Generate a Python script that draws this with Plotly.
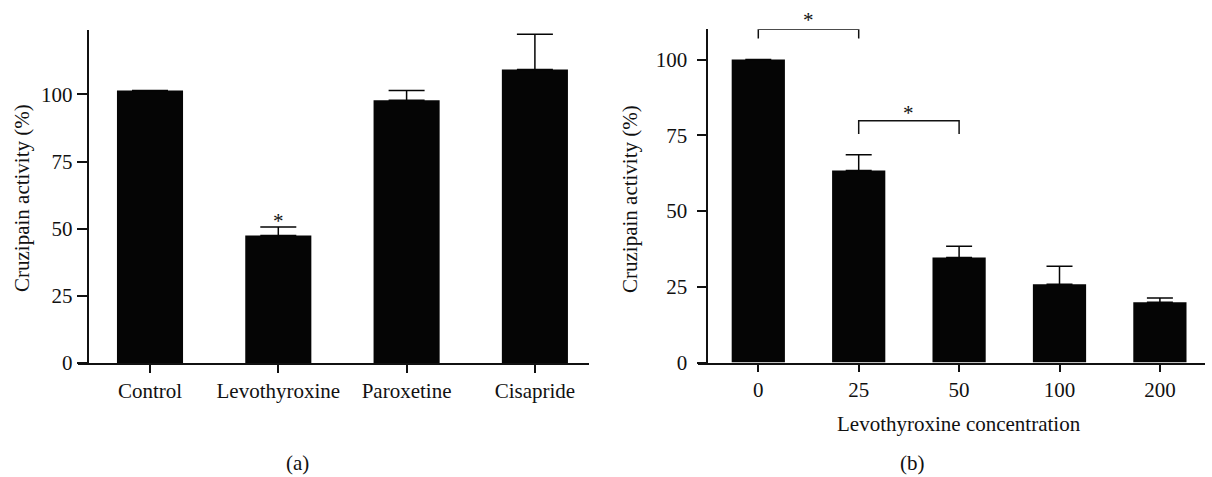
import plotly.graph_objects as go

W, H = 1212, 477

# Panel (a)
cats_a = ["Control", "Levothyroxine", "Paroxetine", "Cisapride"]
vals_a = [101.5, 47.5, 97.8, 109.3]
err_a = [0, 3.1, 3.7, 13.1]
star_cats_a = ["Levothyroxine"]
star_vals_a = [52.2]

# Panel (b)
cats_b = ["0", "25", "50", "100", "200"]
vals_b = [100, 63.4, 34.7, 25.8, 19.9]
err_b = [0, 5.2, 3.7, 6.0, 1.4]
# brackets: left category, right category, top value, end value, star value
br_left = ["0", "25"]
br_right = ["25", "50"]
br_top = [110.0, 79.8]
br_end = [107.0, 75.4]
br_star = [113.0, 82.4]

yticks = [0, 25, 50, 75, 100]
YMAX_A = 124
YMAX_B = 110

FONT = "Liberation Serif"
BLACK = "#050505"
INK = "#111111"


def px(x):
    return x / W


def py(y):
    return (H - y) / H


fig = go.Figure()

fig.add_trace(go.Bar(
    x=cats_a, y=vals_a, xaxis="x", yaxis="y", width=0.515,
    marker=dict(color=BLACK, line=dict(width=0)),
    error_y=dict(type="data", symmetric=False, array=err_a,
                 arrayminus=[0] * len(err_a), color=BLACK, thickness=1.5, width=18),
    showlegend=False, hoverinfo="x+y"))

idx_b = list(range(len(cats_b)))
fig.add_trace(go.Bar(
    x=idx_b, y=vals_b, xaxis="x2", yaxis="y2", width=0.53,
    marker=dict(color=BLACK, line=dict(width=0)),
    error_y=dict(type="data", symmetric=False, array=err_b,
                 arrayminus=[0] * len(err_b), color=BLACK, thickness=1.5, width=13),
    showlegend=False, hovertext=cats_b, hoverinfo="text+y"))

# significance stars (a)
fig.add_trace(go.Scatter(
    x=star_cats_a, y=star_vals_a, xaxis="x", yaxis="y", mode="text", text=["*"] * len(star_cats_a),
    textposition="middle center", textfont=dict(family=FONT, size=21, color=INK),
    cliponaxis=False, showlegend=False, hoverinfo="skip"))

# brackets (b)
for c0, c1, top, end in zip(br_left, br_right, br_top, br_end):
    i0, i1 = cats_b.index(c0), cats_b.index(c1)
    fig.add_trace(go.Scatter(
        x=[i0, i0, i1, i1], y=[end, top, top, end], xaxis="x2", yaxis="y2",
        mode="lines", line=dict(color=INK, width=1.5), cliponaxis=False,
        showlegend=False, hoverinfo="skip"))

# stars over brackets (b): placed on the y2 domain so they may sit above the axis top
for c0, c1, sv in zip(br_left, br_right, br_star):
    xm = (cats_b.index(c0) + cats_b.index(c1)) / 2
    fig.add_annotation(x=xm, y=sv / YMAX_B, xref="x2", yref="y2 domain", text="*",
                       showarrow=False, xanchor="center", yanchor="middle",
                       font=dict(family=FONT, size=21, color=INK))

axis_common = dict(showline=True, linecolor=INK, linewidth=1.5, ticks="outside",
                   tickcolor=INK, tickwidth=1.5, showgrid=False, zeroline=False,
                   automargin=False,
                   tickfont=dict(family=FONT, size=21, color=INK))

# x axis lines and category spacing
xa0 = 78; xa1 = 589; sp_a = 128.3
r0a = -(150 - xa0) / sp_a
r1a = r0a + (xa1 - xa0) / sp_a
xb0 = 698; xb1 = 1205; sp_b = 100.4
r0b = -(758.3 - xb0) / sp_b
r1b = r0b + (xb1 - xb0) / sp_b

fig.update_layout(
    template="none",
    width=W, height=H, margin=dict(l=0, r=0, t=0, b=0, pad=0, autoexpand=False),
    paper_bgcolor="white", plot_bgcolor="white",
    font=dict(family=FONT, size=21, color=INK),
    showlegend=False,
    xaxis=dict(domain=[px(xa0), px(xa1)], anchor="y", range=[r0a, r1a],
               ticklen=8, type="category", **axis_common),
    yaxis=dict(domain=[py(363), py(30)], anchor="free", position=px(87.5),
               range=[0, YMAX_A], tickvals=yticks, ticklen=10, **axis_common),
    xaxis2=dict(domain=[px(xb0), px(xb1)], anchor="y2", range=[r0b, r1b],
                ticklen=8, type="linear", tickvals=idx_b, ticktext=cats_b,
                **axis_common),
    yaxis2=dict(domain=[py(362.5), py(29.3)], anchor="free", position=px(707.3),
                range=[0, YMAX_B], tickvals=yticks, ticklen=10, ticklabelstandoff=5,
                **axis_common),
)

# axis titles and panel labels
title_font = dict(family=FONT, size=21, color=INK)
fig.add_annotation(x=px(22), y=py(198), xref="paper", yref="paper",
                   text="Cruzipain activity (%)", textangle=-90, showarrow=False,
                   xanchor="center", yanchor="middle", font=title_font)
fig.add_annotation(x=px(630), y=py(199), xref="paper", yref="paper",
                   text="Cruzipain activity (%)", textangle=-90, showarrow=False,
                   xanchor="center", yanchor="middle", font=title_font)
fig.add_annotation(x=px(959), y=py(424), xref="paper", yref="paper",
                   text="Levothyroxine concentration", showarrow=False,
                   xanchor="center", yanchor="middle", font=title_font)
fig.add_annotation(x=px(297), y=py(463), xref="paper", yref="paper",
                   text="(a)", showarrow=False, xanchor="center", yanchor="middle",
                   font=title_font)
fig.add_annotation(x=px(912), y=py(463), xref="paper", yref="paper",
                   text="(b)", showarrow=False, xanchor="center", yanchor="middle",
                   font=title_font)

fig.write_html("out.html")
